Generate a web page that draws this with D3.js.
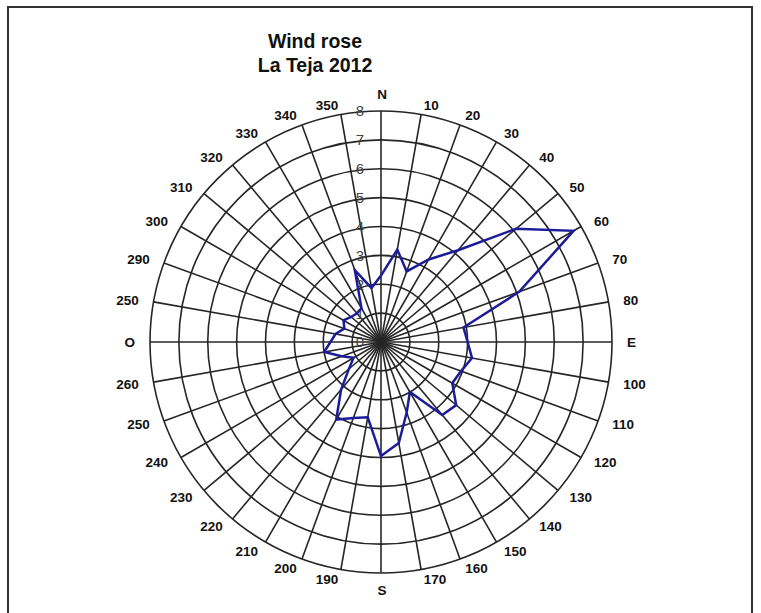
<!DOCTYPE html>
<html>
<head>
<meta charset="utf-8">
<script src="https://cdn.jsdelivr.net/npm/d3@7"></script>
<style>
  body { margin: 0; background: #fff; }
  text { font-family: Arial, "Liberation Sans", sans-serif; }
</style>
</head>
<body>
<script>
// Direction (degrees, clockwise from N) and wind frequency
const directions = d3.range(0, 360, 10);
const frequency = [
    2.3, 3.25, 2.6, 3.3, 4.15, 6.1, 7.7, 5.1, 2.9,
    3.0, 3.2, 2.95, 2.85, 3.4, 3.3, 2.0, 2.6, 3.55,
    3.95, 2.65, 2.8, 3.1, 2.15, 1.45, 1.1, 1.45, 2.0,
    1.75, 1.6, 1.35, 1.5, 1.35, 1.3, 1.35, 2.65, 1.9
];
// Labels as printed on the original (note "250" at 280 degrees)
const dirLabels = [
    "N", "10", "20", "30", "40", "50", "60", "70", "80",
    "E", "100", "110", "120", "130", "140", "150", "160", "170",
    "S", "190", "200", "210", "220", "230", "240", "250", "260",
    "O", "250", "290", "300", "310", "320", "330", "340", "350"
];
const ringTicks = [0, 1, 2, 3, 4, 5, 6, 7, 8];
const titleLines = ["Wind rose", "La Teja 2012"];

const width = 761, height = 613;
const cx = 381, cy = 342;
const R = 231;

const svg = d3.select("body").append("svg")
    .attr("width", width)
    .attr("height", height);

// outer frame
svg.append("rect")
    .attr("x", 8).attr("y", 7)
    .attr("width", 744).attr("height", 640)
    .attr("fill", "none")
    .attr("stroke", "#333")
    .attr("stroke-width", 2);

// title
svg.append("g").selectAll("text")
    .data(titleLines)
    .enter().append("text")
    .attr("x", 315)
    .attr("y", (d, i) => 48 + i * 23.5)
    .attr("text-anchor", "middle")
    .attr("font-size", 19.5)
    .attr("font-weight", "bold")
    .attr("fill", "#111")
    .text(d => d);

const r = d3.scaleLinear().domain([0, 8]).range([0, R]);
const a = d3.scaleLinear().domain([0, 360]).range([0, 2 * Math.PI]);

const g = svg.append("g").attr("transform", `translate(${cx},${cy})`);

// rings
g.selectAll("circle.ring")
    .data(ringTicks.slice(1))
    .enter().append("circle")
    .attr("class", "ring")
    .attr("r", d => r(d))
    .attr("fill", "none")
    .attr("stroke", "#262626")
    .attr("stroke-width", 1.6);

// spokes
g.selectAll("line.spoke")
    .data(directions)
    .enter().append("line")
    .attr("class", "spoke")
    .attr("x1", 0).attr("y1", 0)
    .attr("x2", d => r(8) * Math.sin(a(d)))
    .attr("y2", d => -r(8) * Math.cos(a(d)))
    .attr("stroke", "#262626")
    .attr("stroke-width", 1.6);

// radial tick labels
g.selectAll("text.tick")
    .data(ringTicks)
    .enter().append("text")
    .attr("class", "tick")
    .attr("x", -21)
    .attr("y", d => -r(d))
    .attr("dy", "0.36em")
    .attr("text-anchor", "middle")
    .attr("font-size", 15)
    .attr("fill", "#444")
    .text(d => d);

// direction labels
g.selectAll("text.dir")
    .data(directions)
    .enter().append("text")
    .attr("class", "dir")
    .attr("x", d => {
        const s = Math.sin(a(d));
        return Math.abs(s) < 0.01 ? 1 : 246 * s;
    })
    .attr("y", d => {
        const c = Math.cos(a(d));
        if (d === 0) return -248;
        if (d === 180) return 248;
        return -241 * c;
    })
    .attr("dy", "0.36em")
    .attr("text-anchor", d => d === 0 || d === 180 ? "middle" : (d < 180 ? "start" : "end"))
    .attr("font-size", 13.5)
    .attr("font-weight", "bold")
    .attr("fill", "#111")
    .text((d, i) => dirLabels[i]);

// wind rose polygon
const line = d3.lineRadial()
    .angle((d, i) => a(directions[i]))
    .radius(d => r(d))
    .curve(d3.curveLinearClosed);

g.append("path")
    .datum(frequency)
    .attr("d", line)
    .attr("fill", "none")
    .attr("stroke", "#1c1c9a")
    .attr("stroke-width", 2.5)
    .attr("stroke-linejoin", "miter");
</script>
</body>
</html>
